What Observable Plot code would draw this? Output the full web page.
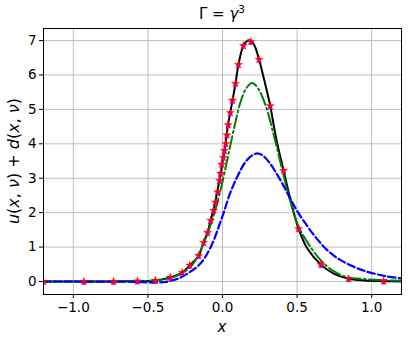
<!DOCTYPE html>
<html><head><meta charset="utf-8">
<script src="https://cdn.jsdelivr.net/npm/d3@7"></script>
<script src="https://cdn.jsdelivr.net/npm/@observablehq/plot@0.6"></script>
<style>body{margin:0;background:#fff;} svg{display:block;}</style>
</head><body><div id="chart"></div>
<script>
const xTicks = [-1.0, -0.5, 0.0, 0.5, 1.0];
const yTicks = [0, 1, 2, 3, 4, 5, 6, 7];

const blackX = [-1.2, -0.9, -0.7, -0.57, -0.45, -0.35, -0.27, -0.22, -0.16, -0.127, -0.1, -0.08, -0.06, -0.04, -0.013, 0.013, 0.035, 0.067, 0.087, 0.107, 0.14, 0.17, 0.19, 0.215, 0.245, 0.28, 0.32, 0.36, 0.41, 0.46, 0.51, 0.57, 0.66, 0.745, 0.845, 0.95, 1.08, 1.2];
const blackY = [0, 0, 0.003, 0.01, 0.03, 0.12, 0.26, 0.47, 0.75, 1.13, 1.42, 1.77, 2.1, 2.5, 3.14, 3.8, 4.5, 5.26, 5.75, 6.3, 6.85, 7.0, 6.99, 6.85, 6.45, 5.85, 5.1, 4.15, 3.22, 2.3, 1.53, 0.95, 0.49, 0.23, 0.08, 0.03, 0.01, 0.0];

const greenX = [-1.2, -0.8, -0.6, -0.45, -0.35, -0.27, -0.2, -0.148, -0.1, -0.05, 0.0, 0.04, 0.08, 0.12, 0.16, 0.2, 0.24, 0.29, 0.35, 0.40, 0.45, 0.51, 0.59, 0.66, 0.745, 0.84, 0.95, 1.06, 1.2];
const greenY = [0, 0, 0.01, 0.03, 0.1, 0.24, 0.5, 0.9, 1.4, 2.05, 2.9, 3.7, 4.5, 5.2, 5.62, 5.77, 5.6, 5.1, 4.15, 3.25, 2.4, 1.6, 1.0, 0.61, 0.3, 0.12, 0.07, 0.04, 0.02];

const blueX = [-1.2, -0.6, -0.45, -0.38, -0.3, -0.235, -0.148, -0.08, 0.0, 0.05, 0.1, 0.15, 0.2, 0.235, 0.27, 0.32, 0.39, 0.456, 0.5, 0.57, 0.6, 0.7, 0.8, 0.95, 1.1, 1.2];
const blueY = [0, -0.01, -0.03, -0.01, 0.08, 0.23, 0.52, 0.99, 1.9, 2.55, 3.05, 3.45, 3.67, 3.72, 3.66, 3.42, 2.93, 2.4, 2.05, 1.6, 1.42, 0.92, 0.6, 0.31, 0.15, 0.09];

const starX = [-1.2, -0.93, -0.73, -0.57, -0.45, -0.35, -0.27, -0.22, -0.16, -0.127, -0.1, -0.08, -0.06, -0.047, -0.033, -0.02, -0.013, -0.005, 0.005, 0.013, 0.022, 0.03, 0.038, 0.052, 0.067, 0.087, 0.107, 0.14, 0.19, 0.245, 0.32, 0.41, 0.51, 0.66, 0.845, 1.08];
const starY = [0, 0, 0, 0.01, 0.03, 0.12, 0.26, 0.47, 0.75, 1.13, 1.42, 1.77, 2.06, 2.3, 2.6, 2.93, 3.14, 3.4, 3.6, 3.8, 4.0, 4.25, 4.55, 4.9, 5.26, 5.75, 6.3, 6.85, 6.97, 6.45, 5.1, 3.22, 1.53, 0.49, 0.08, 0.01];

const rows = (xs, ys) => xs.map((x, i) => ({x, y: ys[i]}));
const black = rows(blackX, blackY);
const green = rows(greenX, greenY);
const blue = rows(blueX, blueY);
const stars = rows(starX, starY);

const W = 408, H = 342;
const plot = Plot.plot({
  width: W, height: H,
  marginLeft: 43, marginRight: 7, marginTop: 28, marginBottom: 48,
  style: {fontFamily: "DejaVu Sans", fontSize: "13.5px", background: "#fff", color: "#000"},
  x: {domain: [-1.2, 1.2]},
  y: {domain: [-0.378, 7.35]},
  marks: [
    Plot.gridX(xTicks, {stroke: "#b0b0b0", strokeOpacity: 1, strokeWidth: 0.8}),
    Plot.gridY(yTicks, {stroke: "#b0b0b0", strokeOpacity: 1, strokeWidth: 0.8}),
    Plot.line(black, {x: "x", y: "y", stroke: "black", strokeWidth: 2, curve: "catmull-rom", clip: true}),
    Plot.line(green, {x: "x", y: "y", stroke: "#008000", strokeWidth: 2, strokeDasharray: "12.8,3.2,2,3.2", curve: "catmull-rom", clip: true}),
    Plot.line(blue, {x: "x", y: "y", stroke: "#0000ff", strokeWidth: 2.2, strokeDasharray: "7.4,3.2", curve: "catmull-rom", clip: true}),
    Plot.dot(stars, {x: "x", y: "y", symbol: "star", fill: "red", stroke: "red", strokeWidth: 0.3, r: 2.6, clip: true}),
    Plot.dot(stars, {x: "x", y: "y", dy: 1.8, symbol: "circle", fill: "#bf00bf", r: 1.6, clip: true}),
    Plot.frame({stroke: "#000", strokeWidth: 1}),
    Plot.axisX(xTicks, {tickSize: 4, tickPadding: 4, tickFormat: d3.format(".1f"), label: null, fontSize: 13.5}),
    Plot.axisY(yTicks, {tickSize: 4, tickPadding: 3, tickFormat: d => String(d), label: null, fontSize: 13.5})
  ]
});
document.getElementById("chart").appendChild(plot);

const svg = d3.select(plot);
// title
const t = svg.append("text").attr("x", 222).attr("y", 19).attr("text-anchor", "middle")
  .attr("font-family", "DejaVu Sans").attr("font-size", 15).attr("fill", "#000");
t.append("tspan").text("Γ = ");
t.append("tspan").attr("font-style", "italic").text("γ");
t.append("tspan").attr("font-size", 10.5).attr("dy", -6).text("3");
// x label
svg.append("text").attr("x", 222).attr("y", 332).attr("text-anchor", "middle")
  .attr("font-family", "DejaVu Sans").attr("font-size", 15).attr("font-style", "italic").attr("fill", "#000").text("x");
// y label
const yl = svg.append("text").attr("transform", "translate(19,161) rotate(-90)").attr("text-anchor", "middle")
  .attr("font-family", "DejaVu Sans").attr("font-size", 16).attr("fill", "#000");
const parts = [["u", true], ["(", false], ["x", true], [", ", false], ["ν", true], [") + ", false], ["d", true], ["(", false], ["x", true], [", ", false], ["ν", true], [")", false]];
parts.forEach(([s, it]) => yl.append("tspan").attr("font-style", it ? "italic" : "normal").text(s));
</script></body></html>
